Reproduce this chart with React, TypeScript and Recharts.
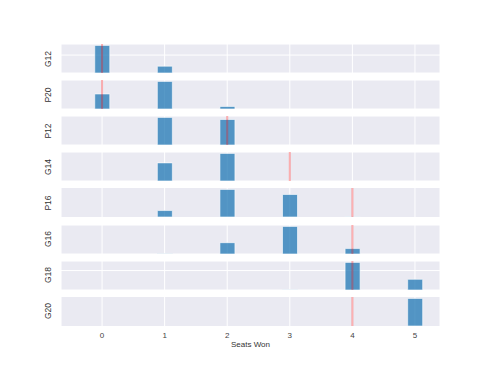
import React from 'react'
import {
  BarChart,
  Bar,
  XAxis,
  YAxis,
  CartesianGrid,
  ReferenceLine,
} from 'recharts'

// seat counts on the shared x axis
const seats = [0, 1, 2, 3, 4, 5]

const elections = ['G12', 'P20', 'P12', 'G14', 'P16', 'G16', 'G18', 'G20']

// share of simulated plans winning each seat count (0..5)
const g12 = [0.77, 0.19, 0, 0, 0, 0]
const p20 = [0.31, 0.57, 0.053, 0, 0, 0]
const p12 = [0, 0.52, 0.48, 0, 0, 0]
const g14 = [0, 0.4, 0.61, 0, 0, 0]
const p16 = [0, 0.114, 0.488, 0.398, 0.004, 0]
const g16 = [0, 0.004, 0.25, 0.61, 0.12, 0]
const g18 = [0, 0, 0, 0.008, 0.71, 0.275]
const g20 = [0, 0, 0, 0, 0, 1.0]

const shares = [g12, p20, p12, g14, p16, g16, g18, g20]

// seats actually won under the enacted plan
const enacted = [0, 0, 2, 3, 4, 4, 4, 4]

// horizontal gridline values per panel
const yTicks = [[0.5], [0.5], [0.5], [0.5], [], [0.5], [0.5], []]

const FONT = '"Liberation Sans", Arial, sans-serif'
const PANEL_LEFT = 61
const PANEL_WIDTH = 379
const PANEL_HEIGHT = 29
const PANEL_TOP = 44
const PANEL_STEP = 36.1
const AXIS_HEIGHT = 30

function Panel({ index }: { index: number }) {
  const data = seats.map((s, i) => ({ seat: s, share: shares[index][i] }))
  const max = Math.max(...shares[index])
  const last = index === elections.length - 1
  const ticks = yTicks[index]
  return (
    <BarChart
      width={PANEL_WIDTH}
      height={PANEL_HEIGHT + (last ? AXIS_HEIGHT : 0)}
      data={data}
      margin={{ top: 0, right: 0, bottom: 0, left: 0 }}
      barSize={15}
    >
      <CartesianGrid
        fill="#EAEAF2"
        fillOpacity={1}
        stroke="#ffffff"
        strokeWidth={1}
        horizontal={ticks.length > 0}
      />
      <XAxis
        dataKey="seat"
        type="number"
        domain={[-0.656, 5.4]}
        ticks={seats}
        allowDataOverflow
        hide={!last}
        height={AXIS_HEIGHT}
        axisLine={false}
        tickLine={false}
        tickSize={4}
        tickMargin={2}
        tick={{ fontSize: 8, fill: '#444', fontFamily: FONT }}
        label={
          last
            ? {
                value: 'Seats Won',
                position: 'insideBottom',
                offset: 9,
                fontSize: 8,
                fill: '#333',
                fontFamily: FONT,
              }
            : undefined
        }
      />
      <YAxis hide domain={[0, max * 1.05]} ticks={ticks.length ? ticks : [0]} />
      <Bar
        dataKey="share"
        fill="#1f77b4"
        fillOpacity={0.75}
        stroke="#ffffff"
        strokeOpacity={0.6}
        strokeWidth={1}
        isAnimationActive={false}
      />
      <ReferenceLine x={enacted[index]} stroke="red" strokeOpacity={0.3} strokeWidth={2} />
    </BarChart>
  )
}

export default function App() {
  return (
    <div
      style={{
        position: 'absolute',
        left: 0,
        top: 0,
        width: 488,
        height: 366,
        background: '#fff',
        fontFamily: FONT,
      }}
    >
      {elections.map((name, i) => {
        const top = PANEL_TOP + i * PANEL_STEP
        return (
          <React.Fragment key={name}>
            <div
              style={{
                position: 'absolute',
                left: 38,
                top: top + PANEL_HEIGHT / 2 - 6,
                width: 20,
                height: 12,
                lineHeight: '12px',
                fontSize: 8.5,
                color: '#333',
                textAlign: 'center',
                transform: 'rotate(-90deg)',
              }}
            >
              {name}
            </div>
            <div style={{ position: 'absolute', left: PANEL_LEFT, top }}>
              <Panel index={i} />
            </div>
          </React.Fragment>
        )
      })}
    </div>
  )
}
